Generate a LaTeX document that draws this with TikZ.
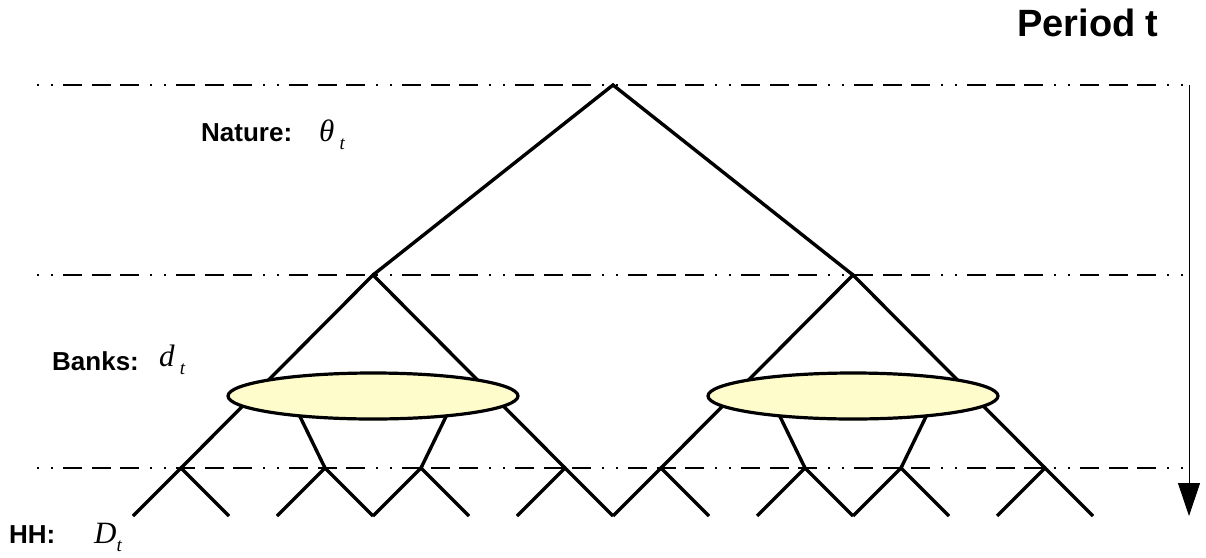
\documentclass[tikz,border=0pt]{standalone}
\usepackage{fontspec}
\setmainfont{Liberation Sans}
\newfontfamily\tms{Liberation Serif}
\usetikzlibrary{arrows.meta,calc,shapes.geometric}
\tikzset{
  branch/.style={line width=3.4pt, line cap=butt},
  levelline/.style={line width=1.3pt, dash pattern=on 2pt off 12pt on 2pt off 10pt on 19pt off 10pt on 19pt off 9pt on 19pt off 11pt},
  bankset/.style={ellipse, draw, line width=3.2pt, fill=yellow!20, minimum width=290pt, minimum height=46pt, inner sep=0pt},
  lbl/.style={font=\bfseries\fontsize{26}{26}\selectfont, anchor=base west, inner sep=0pt},
  var/.style={font=\tms\itshape\fontsize{31}{31}\selectfont, anchor=base west, inner sep=0pt},
}
\newcommand{\sbt}{\raisebox{-8pt}{\fontsize{19}{19}\selectfont t}}
\begin{document}
\begin{tikzpicture}[x=1pt,y=-1pt]
\useasboundingbox (0,0) rectangle (1206,557);
% level lines
\coordinate (l1a) at (37,85);  \coordinate (l1b) at (1189,85);
\coordinate (l2a) at (37,275); \coordinate (l2b) at (1189,275);
\coordinate (l3a) at (37,468); \coordinate (l3b) at (1189,468);
\draw[levelline] (l1a) -- (l1b);
\draw[levelline] (l2a) -- (l2b);
\draw[levelline] (l3a) -- (l3b);
% time arrow
\coordinate (ta) at (1189,85);
\coordinate (tb) at (1189,516);
\draw[line width=1pt, -{Triangle[length=33pt,width=22pt]}] (ta) -- (tb);
% tree: nature
\coordinate (root) at (613,85);
\coordinate (L) at (373,275);
\coordinate (R) at (853,275);
\draw[branch] (L) -- (root) -- (R);
% banks subtrees
\foreach \c/\n in {373/A,853/B}{
  \coordinate (\n o1) at (\c-192,468);
  \coordinate (\n i1) at (\c-48,468);
  \coordinate (\n i2) at (\c+48,468);
  \coordinate (\n o2) at (\c+192,468);
  \coordinate (\n s1) at (\c-83,396);
  \coordinate (\n s2) at (\c+83,396);
  \coordinate (\n top) at (\c,275);
  \draw[branch] (\n o1) -- (\n top) -- (\n o2);
  \draw[branch] (\n s1) -- (\n i1);
  \draw[branch] (\n s2) -- (\n i2);
  \foreach \p in {o1,i1,i2,o2}{
    \coordinate (\n\p l) at ($(\n\p)+(-48,48)$);
    \coordinate (\n\p r) at ($(\n\p)+(48,48)$);
    \draw[branch] (\n\p l) -- (\n\p) -- (\n\p r);
  }
}
\node[bankset] (bankA) at (373,396) {};
\node[bankset] (bankB) at (853,396) {};
% labels
\node[lbl] (period) at (1017,36) {\fontsize{38}{38}\selectfont Period t};
\node[lbl] (nature) at (201,141) {Nature:};
\node[var] (theta) at (319,141) {θ\,\sbt};
\node[lbl] (banks) at (52,370) {Banks:};
\node[var] (dt) at (159,366) {d\,\sbt};
\node[lbl] (hh) at (9,543) {HH:};
\node[var] (Dt) at (94,543) {D\sbt};
\end{tikzpicture}
\end{document}
